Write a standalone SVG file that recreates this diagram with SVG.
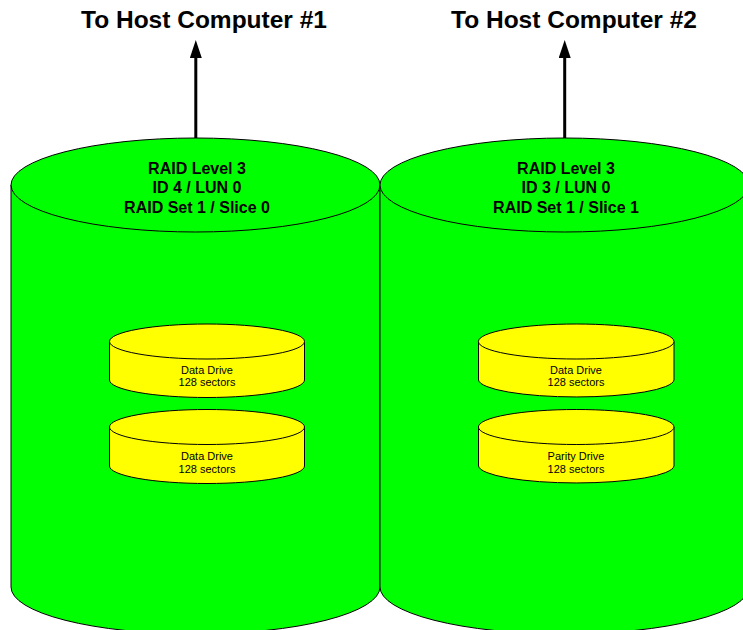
<svg xmlns="http://www.w3.org/2000/svg" width="743" height="630" viewBox="0 0 743 630">
<defs>
<style>
.cyl{fill:#00FF00;stroke:#000;stroke-width:1}
.drv{fill:#FFFF00;stroke:#000;stroke-width:1}
.title{font-family:"Liberation Sans",Arial,sans-serif;font-weight:bold;font-size:24.5px;text-anchor:middle;fill:#000}
.lbl{font-family:"Liberation Sans",Arial,sans-serif;font-weight:bold;font-size:16px;text-anchor:middle;fill:#000}
.dl{font-family:"Liberation Sans",Arial,sans-serif;font-size:11px;text-anchor:middle;fill:#000}
.conn{stroke:#000;stroke-width:3;fill:none}
</style>
<marker id="ah" viewBox="0 0 18 12" refX="0" refY="6" markerWidth="18" markerHeight="12" markerUnits="userSpaceOnUse" orient="auto">
<path d="M0,0 L18,6 L0,12 Z" fill="#000"/>
</marker>
</defs>
<rect width="743" height="630" fill="#fff"/>

<g id="host1"><text class="title" x="204" y="28">To Host Computer #1</text></g>
<g id="host2"><text class="title" x="574" y="28">To Host Computer #2</text></g>

<g id="lun0">
<path class="cyl" d="M11,185 L11,587 A184.5,47 0 0 0 380,587 L380,185 Z"/>
<ellipse class="cyl" cx="195.5" cy="185" rx="184.5" ry="47"/>
<text class="lbl" x="197" y="173.5">RAID Level 3</text>
<text class="lbl" x="197" y="193">ID 4 / LUN 0</text>
<text class="lbl" x="197" y="212.5">RAID Set 1 / Slice 0</text>
</g>

<g id="lun1">
<path class="cyl" d="M380,185 L380,587 A184.5,47 0 0 0 749,587 L749,185 Z"/>
<ellipse class="cyl" cx="564.5" cy="185" rx="184.5" ry="47"/>
<text class="lbl" x="566" y="173.5">RAID Level 3</text>
<text class="lbl" x="566" y="193">ID 3 / LUN 0</text>
<text class="lbl" x="566" y="212.5">RAID Set 1 / Slice 1</text>
</g>

<g id="drive1a">
<path class="drv" d="M109.5,341.5 L109.5,380 A97.5,17.5 0 0 0 304.5,380 L304.5,341.5 Z"/>
<ellipse class="drv" cx="207" cy="341.5" rx="97.5" ry="17.5"/>
<text class="dl" x="207" y="373.5">Data Drive</text>
<text class="dl" x="207" y="386">128 sectors</text>
</g>
<g id="drive1b">
<path class="drv" d="M109.5,427 L109.5,466 A97.5,17.5 0 0 0 304.5,466 L304.5,427 Z"/>
<ellipse class="drv" cx="207" cy="427" rx="97.5" ry="17.5"/>
<text class="dl" x="207" y="460">Data Drive</text>
<text class="dl" x="207" y="472.5">128 sectors</text>
</g>
<g id="drive2a">
<path class="drv" d="M478.5,341.5 L478.5,380 A97.8,17.5 0 0 0 674,380 L674,341.5 Z"/>
<ellipse class="drv" cx="576.2" cy="341.5" rx="97.8" ry="17.5"/>
<text class="dl" x="576" y="373.5">Data Drive</text>
<text class="dl" x="576" y="386">128 sectors</text>
</g>
<g id="drive2b">
<path class="drv" d="M478.5,427 L478.5,466 A97.8,17.5 0 0 0 674,466 L674,427 Z"/>
<ellipse class="drv" cx="576.2" cy="427" rx="97.8" ry="17.5"/>
<text class="dl" x="576" y="460">Parity Drive</text>
<text class="dl" x="576" y="472.5">128 sectors</text>
</g>

<g id="connectors">
<line class="conn" x1="195.8" y1="138" x2="195.8" y2="58" marker-end="url(#ah)"/>
<line class="conn" x1="564.7" y1="138" x2="564.7" y2="58" marker-end="url(#ah)"/>
</g>
</svg>
